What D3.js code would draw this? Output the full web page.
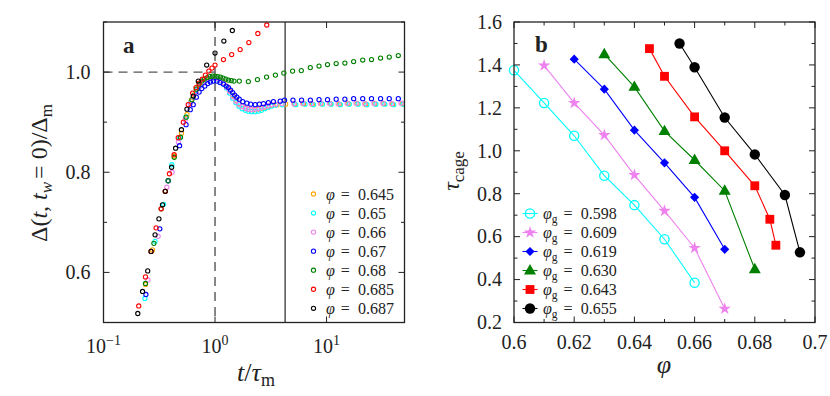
<!DOCTYPE html>
<html>
<head>
<meta charset="utf-8">
<script src="https://cdn.jsdelivr.net/npm/d3@7"></script>
<style>
  body { margin: 0; background: #fff; }
  svg text { font-family: "Liberation Serif", "DejaVu Serif", serif; fill: #222; }
</style>
</head>
<body>
<svg width="830" height="396"></svg>
<script>
// ---- panel a data: [t/tau_m, Delta/Delta_m]
const phiA = [0.645, 0.65, 0.66, 0.67, 0.68, 0.685, 0.687];

const sA0645 = [[0.238,0.576],[0.275,0.645],[0.358,0.762],[0.43,0.832],[0.5,0.878],[0.56,0.915],
  [0.61,0.942],[0.65,0.955],[0.69,0.965],[0.73,0.973],[0.78,0.979],[0.83,0.984],[0.88,0.987],[0.94,0.988],
  [1.0,0.988],[1.06,0.986],[1.13,0.983],[1.2,0.978],[1.28,0.971],[1.36,0.962],[1.45,0.953],[1.55,0.944],
  [1.65,0.937],[1.76,0.932],[1.88,0.928],[2.0,0.926],[2.14,0.925],[2.29,0.925],[2.45,0.926],[2.62,0.928],
  [2.8,0.93],[3.0,0.932],[3.25,0.934],[3.6,0.935],[4.3,0.936],
  [5.16,0.936],[6.22,0.937],[7.45,0.936],[8.93,0.937],[10.8,0.937],[13.0,0.936],[15.6,0.937],[18.8,0.937],
  [22.5,0.936],[27.1,0.937],[32.6,0.937],[39.1,0.936],[47.8,0.937]];

const sA065 = [[0.235,0.548],[0.29,0.662],[0.346,0.736],[0.41,0.815],[0.48,0.868],[0.55,0.91],
  [0.6,0.938],[0.64,0.952],[0.68,0.963],[0.72,0.971],[0.77,0.978],[0.82,0.983],[0.87,0.986],[0.93,0.988],
  [0.99,0.988],[1.05,0.986],[1.12,0.982],[1.19,0.976],[1.27,0.968],[1.35,0.958],[1.44,0.948],[1.54,0.939],
  [1.64,0.932],[1.75,0.927],[1.87,0.924],[1.99,0.922],[2.13,0.921],[2.28,0.921],[2.44,0.922],[2.61,0.924],
  [2.79,0.927],[2.99,0.93],[3.2,0.932],[3.5,0.934],[4.0,0.935],
  [5.3,0.935],[6.4,0.936],[7.65,0.935],[9.2,0.936],[11.0,0.936],[13.3,0.935],[16.0,0.936],[19.2,0.936],
  [23.0,0.935],[27.7,0.936],[33.3,0.936],[40.0,0.935],[48.5,0.936]];

const sA066 = [[0.25,0.585],[0.309,0.672],[0.37,0.77],[0.412,0.8],[0.47,0.86],[0.54,0.905],
  [0.6,0.937],[0.64,0.95],[0.68,0.961],[0.72,0.97],[0.77,0.977],[0.82,0.982],[0.87,0.986],[0.93,0.988],
  [0.99,0.988],[1.05,0.987],[1.12,0.983],[1.19,0.978],[1.27,0.97],[1.35,0.961],[1.44,0.951],[1.54,0.942],
  [1.64,0.936],[1.75,0.931],[1.87,0.928],[1.99,0.926],[2.13,0.925],[2.28,0.926],[2.44,0.927],[2.61,0.929],
  [2.79,0.931],[2.99,0.933],[3.2,0.935],[3.5,0.936],[4.0,0.937],
  [5.1,0.937],[6.1,0.938],[7.3,0.937],[8.8,0.938],[10.6,0.938],[12.7,0.937],[15.3,0.938],[18.4,0.938],
  [22.0,0.937],[26.6,0.938],[32.0,0.938],[38.4,0.937],[46.5,0.938]];

const sA067 = [[0.24,0.556],[0.32,0.687],[0.38,0.783],[0.481,0.853],[0.55,0.895],
  [0.6,0.925],[0.638,0.935],[0.68,0.95],[0.72,0.96],[0.76,0.967],[0.81,0.972],[0.86,0.977],[0.91,0.98],
  [0.965,0.982],[1.04,0.982],[1.11,0.979],[1.19,0.976],[1.26,0.972],[1.32,0.969],[1.38,0.964],[1.44,0.959],
  [1.5,0.954],[1.57,0.95],[1.65,0.946],[1.77,0.941],[1.93,0.938],[2.09,0.936],[2.29,0.935],[2.5,0.936],
  [2.72,0.937],[3.01,0.939],[3.34,0.941],[3.84,0.942],[4.2,0.944],
  [5.0,0.944],[5.97,0.944],[7.16,0.944],[8.56,0.945],[10.2,0.945],[12.2,0.946],[14.6,0.946],[17.5,0.947],
  [21.1,0.947],[25.3,0.947],[30.5,0.947],[36.5,0.947],[44,0.947]];

const sA068 = [[0.238,0.578],[0.283,0.658],[0.329,0.727],[0.38,0.783],[0.431,0.83],[0.49,0.87],[0.55,0.91],
  [0.62,0.945],[0.68,0.966],[0.72,0.976],[0.76,0.982],[0.8,0.986],[0.85,0.989],[0.9,0.991],[0.95,0.992],
  [1.0,0.992],[1.06,0.991],[1.12,0.99],[1.18,0.988],[1.25,0.986],[1.32,0.984],[1.4,0.983],[1.48,0.982],
  [1.65,0.982],[1.99,0.981],[2.4,0.985],[2.9,0.99],[3.48,0.994],[4.14,0.998],[4.96,1.002],[5.94,1.003],
  [7.15,1.009],[8.56,1.012],[10.2,1.015],[12.2,1.017],[14.6,1.018],[17.5,1.021],[21.1,1.024],[25.3,1.025],
  [30.5,1.028],[36.5,1.03],[44,1.033]];

const sA0685 = [[0.207,0.533],[0.238,0.591],[0.267,0.642],[0.296,0.689],[0.329,0.727],[0.358,0.762],
  [0.39,0.797],[0.43,0.835],[0.468,0.869],[0.52,0.9],[0.575,0.935],[0.63,0.958],[0.675,0.969],[0.72,0.978],
  [0.769,0.986],[0.82,0.994],[0.88,1.002],[0.94,1.008],[1.0,1.014],[1.19,1.025],[1.41,1.035],[1.68,1.045],
  [2.01,1.059],[2.42,1.077],[2.91,1.094],[3.5,1.113]];

const sA0687 = [[0.203,0.518],[0.224,0.562],[0.249,0.603],[0.267,0.642],[0.29,0.675],[0.314,0.707],
  [0.338,0.735],[0.358,0.762],[0.408,0.81],[0.443,0.848],[0.5,0.885],[0.56,0.926],[0.638,0.952],
  [0.708,0.982],[0.842,1.014],[1.0,1.038],[1.2,1.062],[1.43,1.083],[1.7,1.106]];

const seriesA = [sA0645, sA065, sA066, sA067, sA068, sA0685, sA0687];
const colorsA = ["#ffa500", "#00ffff", "#ee82ee", "#0000ff", "#008000", "#ff0000", "#000000"];

const xTicksA = [0.1, 1, 10];
const xTickExpA = ["\u22121", "0", "1"];
const yTicksA = [0.6, 0.8, 1.0];
const yMinorA = [0.5, 0.7, 0.9, 1.1];
const tMark = 4.25;   // solid vertical line

// ---- panel b data
const gLabels = ["0.598", "0.609", "0.619", "0.630", "0.643", "0.655"];
const phiB = [
  [0.60, 0.61, 0.62, 0.63, 0.64, 0.65, 0.66],
  [0.61, 0.62, 0.63, 0.64, 0.65, 0.66, 0.67],
  [0.62, 0.63, 0.64, 0.65, 0.66, 0.67],
  [0.63, 0.64, 0.65, 0.66, 0.67, 0.68],
  [0.645, 0.65, 0.66, 0.67, 0.68, 0.685, 0.687],
  [0.655, 0.66, 0.67, 0.68, 0.69, 0.695]
];
const tauB = [
  [1.375, 1.223, 1.07, 0.884, 0.747, 0.588, 0.385],
  [1.397, 1.223, 1.073, 0.887, 0.72, 0.547, 0.264],
  [1.427, 1.287, 1.096, 0.944, 0.783, 0.541],
  [1.45, 1.298, 1.092, 0.957, 0.814, 0.448],
  [1.476, 1.347, 1.158, 1.0, 0.837, 0.681, 0.56],
  [1.5, 1.389, 1.155, 0.983, 0.794, 0.527]
];
const colorsB = ["#00ffff", "#ee82ee", "#0000ff", "#008000", "#ff0000", "#000000"];
const markersB = ["ocircle", "star", "diamond", "triangle", "square", "circle"];
const xTicksB = ["0.6", "0.62", "0.64", "0.66", "0.68", "0.7"];
const yTicksB = ["0.2", "0.4", "0.6", "0.8", "1.0", "1.2", "1.4", "1.6"];

const svg = d3.select("svg");
const axisColor = "#222";

function frame(g, x0, x1, y0, y1) {
  g.append("rect").attr("x", x0).attr("y", y0).attr("width", x1 - x0).attr("height", y1 - y0)
    .attr("fill", "none").attr("stroke", axisColor).attr("stroke-width", 1.3);
}
function tick(g, x1, y1, x2, y2) {
  g.append("line").attr("x1", x1).attr("y1", y1).attr("x2", x2).attr("y2", y2)
    .attr("stroke", axisColor).attr("stroke-width", 1);
}
function phiLegend(g, xx, yy, sub, val) {
  const t = g.append("text").attr("x", xx).attr("y", yy + 5.5).attr("font-size", 16);
  t.append("tspan").attr("font-style", "italic").text("\u03c6");
  if (sub) {
    t.append("tspan").attr("font-size", 11.5).attr("dy", 4).text(sub);
    t.append("tspan").attr("dy", -4).attr("dx", 6).text("=");
  } else {
    t.append("tspan").attr("dx", 6).text("=");
  }
  t.append("tspan").attr("dx", 8).text(val);
}

// ================= panel a =================
const L = 103.5, R = 404.5, T = 22, B = 322.5;
const x = d3.scaleLog().domain([0.1, 50]).range([L, R]);
const y = d3.scaleLinear().domain([0.5, 1.1]).range([B, T]);
const ga = svg.append("g");

svg.append("clipPath").attr("id", "clipA").append("rect")
  .attr("x", L).attr("y", T).attr("width", R - L).attr("height", B - T);

// reference lines
ga.append("line").attr("x1", x(1)).attr("x2", x(1)).attr("y1", T).attr("y2", B)
  .attr("stroke", "#555").attr("stroke-width", 1.4).attr("stroke-dasharray", "9,6");
ga.append("line").attr("x1", L).attr("x2", x(1)).attr("y1", y(1)).attr("y2", y(1))
  .attr("stroke", "#555").attr("stroke-width", 1.4).attr("stroke-dasharray", "9,6");
ga.append("line").attr("x1", x(tMark)).attr("x2", x(tMark)).attr("y1", T).attr("y2", B)
  .attr("stroke", "#111").attr("stroke-width", 1.1);

const pts = ga.append("g").attr("clip-path", "url(#clipA)");
seriesA.forEach((s, i) => {
  pts.append("g").selectAll("circle").data(s).enter().append("circle")
    .attr("cx", d => x(d[0])).attr("cy", d => y(d[1])).attr("r", 2.1)
    .attr("fill", "none").attr("stroke", colorsA[i]).attr("stroke-width", 1.1);
});

frame(ga, L, R, T, B);
xTicksA.forEach((v, i) => {
  tick(ga, x(v), B, x(v), B - 6);
  tick(ga, x(v), T, x(v), T + 6);
  const t = ga.append("text").attr("x", x(v)).attr("y", B + 30).attr("text-anchor", "middle")
    .attr("font-size", 20);
  t.append("tspan").text("10");
  t.append("tspan").attr("dy", -8).attr("font-size", 14).text(xTickExpA[i]);
});
yTicksA.forEach(v => {
  tick(ga, L, y(v), L + 6, y(v));
  tick(ga, R, y(v), R - 6, y(v));
  ga.append("text").attr("x", L - 13).attr("y", y(v) + 6.8).attr("text-anchor", "end")
    .attr("font-size", 20).text(d3.format(".1f")(v));
});
yMinorA.forEach(v => {
  tick(ga, L, y(v), L + 3.5, y(v));
  tick(ga, R, y(v), R - 3.5, y(v));
});

ga.append("text").attr("x", 123).attr("y", 53).attr("font-size", 23).attr("font-weight", "bold").text("a");

// legend a
phiA.forEach((p, i) => {
  const yy = 194 + i * 19.05;
  ga.append("circle").attr("cx", 313.5).attr("cy", yy).attr("r", 2.1)
    .attr("fill", "none").attr("stroke", colorsA[i]).attr("stroke-width", 1.1);
  phiLegend(ga, 326, yy, null, String(p));
});

// axis labels a
const xl = ga.append("text").attr("x", 256).attr("y", 381).attr("text-anchor", "middle").attr("font-size", 26);
xl.append("tspan").attr("font-style", "italic").text("t");
xl.append("tspan").text("/");
xl.append("tspan").attr("font-style", "italic").text("\u03c4");
xl.append("tspan").attr("font-size", 18).attr("dy", 5).text("m");

const yl = ga.append("text").attr("transform", "translate(47,173) rotate(-90)")
  .attr("text-anchor", "middle").attr("font-size", 24);
yl.append("tspan").text("\u0394(");
yl.append("tspan").attr("font-style", "italic").text("t");
yl.append("tspan").text(", ");
yl.append("tspan").attr("font-style", "italic").text("t");
yl.append("tspan").attr("font-style", "italic").attr("font-size", 17).attr("dy", 5).text("w");
yl.append("tspan").attr("dy", -5).attr("dx", 3).text("= 0)/\u0394");
yl.append("tspan").attr("font-size", 17).attr("dy", 5).text("m");

// ================= panel b =================
const L2 = 514, R2 = 815;
const xb = d3.scaleLinear().domain([0.6, 0.7]).range([L2, R2]);
const yb = d3.scaleLinear().domain([0.2, 1.6]).range([B, T]);
const gb = svg.append("g");

function marker(g, kind, cx, cy, color) {
  if (kind === "ocircle") {
    g.append("circle").attr("cx", cx).attr("cy", cy).attr("r", 4.6)
      .attr("fill", "none").attr("stroke", color).attr("stroke-width", 1.3);
  } else if (kind === "circle") {
    g.append("circle").attr("cx", cx).attr("cy", cy).attr("r", 5.2).attr("fill", color);
  } else if (kind === "diamond") {
    g.append("path").attr("d", d3.symbol().type(d3.symbolSquare).size(42)())
      .attr("transform", `translate(${cx},${cy}) rotate(45)`).attr("fill", color);
  } else if (kind === "square") {
    g.append("path").attr("d", d3.symbol().type(d3.symbolSquare).size(78)())
      .attr("transform", `translate(${cx},${cy})`).attr("fill", color);
  } else if (kind === "triangle") {
    g.append("path").attr("d", d3.symbol().type(d3.symbolTriangle).size(62)())
      .attr("transform", `translate(${cx},${cy + 0.5})`).attr("fill", color);
  } else if (kind === "star") {
    g.append("path").attr("d", d3.symbol().type(d3.symbolStar).size(48)())
      .attr("transform", `translate(${cx},${cy})`).attr("fill", color);
  }
}

const line = d3.line().x(d => xb(d[0])).y(d => yb(d[1]));
phiB.forEach((xs, i) => {
  const d = xs.map((v, j) => [v, tauB[i][j]]);
  gb.append("path").attr("d", line(d)).attr("fill", "none").attr("stroke", colorsB[i]).attr("stroke-width", 1.1);
  d.forEach(p => marker(gb, markersB[i], xb(p[0]), yb(p[1]), colorsB[i]));
});

frame(gb, L2, R2, T, B);
xb.ticks(10).forEach((v, k) => {
  const len = k % 2 === 0 ? 6 : 3.5;
  tick(gb, xb(v), B, xb(v), B - len);
  tick(gb, xb(v), T, xb(v), T + len);
});
yb.ticks(14).forEach((v, k) => {
  const len = k % 2 === 0 ? 6 : 3.5;
  tick(gb, L2, yb(v), L2 + len, yb(v));
  tick(gb, R2, yb(v), R2 - len, yb(v));
});
xTicksB.forEach(s => {
  gb.append("text").attr("x", xb(+s)).attr("y", B + 26).attr("text-anchor", "middle")
    .attr("font-size", 20).text(s);
});
yTicksB.forEach(s => {
  gb.append("text").attr("x", L2 - 12).attr("y", yb(+s) + 6.8).attr("text-anchor", "end")
    .attr("font-size", 20).text(s);
});

gb.append("text").attr("x", 535).attr("y", 52).attr("font-size", 23).attr("font-weight", "bold").text("b");

// legend b
gLabels.forEach((lab, i) => {
  const yy = 213.5 + i * 19;
  gb.append("line").attr("x1", 522.5).attr("x2", 537.5).attr("y1", yy).attr("y2", yy)
    .attr("stroke", colorsB[i]).attr("stroke-width", 1.1);
  marker(gb, markersB[i], 530, yy, colorsB[i]);
  phiLegend(gb, 543, yy, "g", lab);
});

gb.append("text").attr("x", 664).attr("y", 373).attr("text-anchor", "middle")
  .attr("font-size", 26).attr("font-style", "italic").text("\u03c6");
const ylb = gb.append("text").attr("transform", "translate(459,171) rotate(-90)")
  .attr("text-anchor", "middle").attr("font-size", 24);
ylb.append("tspan").attr("font-style", "italic").text("\u03c4");
ylb.append("tspan").attr("font-size", 17).attr("dy", 5).text("cage");
</script>
</body>
</html>
